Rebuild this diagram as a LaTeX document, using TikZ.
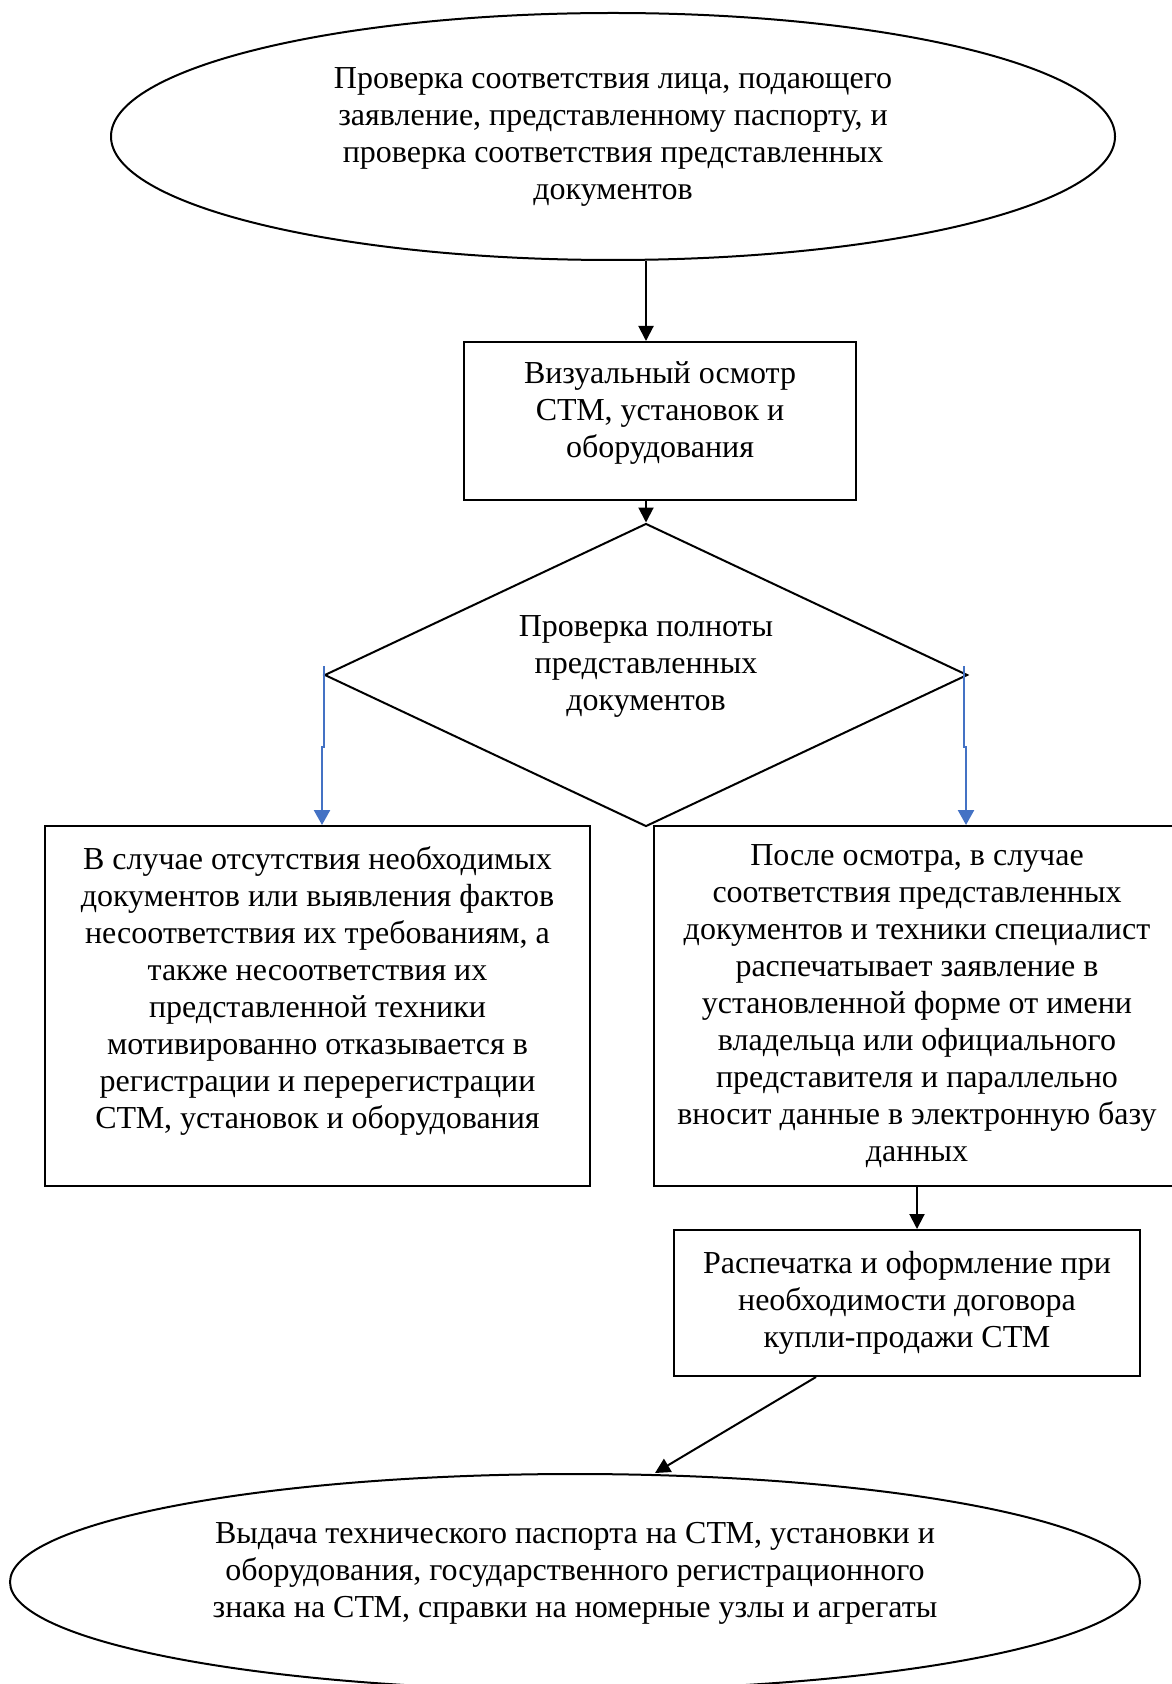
\documentclass[tikz,border=0pt]{standalone}
\usepackage{fontspec}
\setmainfont{Liberation Serif}
\usetikzlibrary{arrows.meta}
\usetikzlibrary{shapes.geometric}
\definecolor{sideblue}{HTML}{4472C4}
\newcommand{\lift}[1]{\rule[-#1]{0pt}{0pt}}

\begin{document}
\begin{tikzpicture}[x=0.5pt,y=-0.5pt,
    every node/.style={font=\fontsize{16}{18.5}\selectfont, align=center, inner sep=0pt},
    blk/.style={draw, line width=1pt, rectangle},
    oval/.style={draw, line width=1pt, ellipse},
    flow/.style={line width=1pt, -{Triangle[width=7.5pt,length=7.5pt]}},
    side/.style={line width=1.2pt, color=sideblue, -{Triangle[width=8pt,length=7.5pt]}}]

            \useasboundingbox (0,0) rectangle (1171,1684);

            \node[oval, minimum width=502pt, minimum height=123.5pt] (check) at (613,136.5) {Проверка соответствия лица, подающего\\заявление, представленному паспорту, и\\проверка соответствия представленных\\документов};
            \node[blk, minimum width=196pt, minimum height=79pt] (visual) at (660,421) {Визуальный осмотр\\СТМ, установок и\\оборудования\lift{11pt}};
            \node[draw, line width=1pt, diamond, aspect=2.12, minimum width=321.5pt, minimum height=151.5pt] (full) at (646,675) {Проверка полноты\\представленных\\документов\lift{12pt}};

            \node[blk, minimum width=272.5pt, minimum height=180pt] (refuse) at (317.5,1006) {В случае отсутствия необходимых\\документов или выявления фактов\\несоответствия их требованиям, а\\также несоответствия их\\представленной техники\\мотивированно отказывается в\\регистрации и перерегистрации\\СТМ, установок и оборудования\lift{18pt}};
            \node[blk, minimum width=263pt, minimum height=180pt] (accept) at (917,1006) {После осмотра, в случае\\соответствия представленных\\документов и техники специалист\\распечатывает заявление в\\установленной форме от имени\\владельца или официального\\представителя и параллельно\\вносит данные в электронную базу\\данных};
            \node[blk, minimum width=233pt, minimum height=73pt] (print) at (907,1303) {Распечатка и оформление при\\необходимости договора\\купли-продажи СТМ\lift{2pt}};
            \node[oval, minimum width=565pt, minimum height=108pt] (issue) at (575,1582) {Выдача технического паспорта на СТМ, установки и\\оборудования, государственного регистрационного\\знака на СТМ, справки на номерные узлы и агрегаты\lift{12pt}};

            % connectors
            \draw[flow] (check.south -| full.north) -- (visual.north -| full.north);
            \draw[flow] (visual.south -| full.north) -- (full.north);
            \draw[flow] (accept.south) -- (accept.south |- print.north);
            \draw[flow] ([xshift=-45.5pt]print.south) -- ([xshift=40pt]issue.north);

            % side branches
            \coordinate (lstart) at (324,666);
            \coordinate (lbend) at (322,747);
            \coordinate (rstart) at (964,666);
            \coordinate (rbend) at (966,747);
            \draw[side] (lstart) |- (lbend) -- (lbend |- refuse.north);
            \draw[side] (rstart) |- (rbend) -- (rbend |- accept.north);

        \end{tikzpicture}
\end{document}
